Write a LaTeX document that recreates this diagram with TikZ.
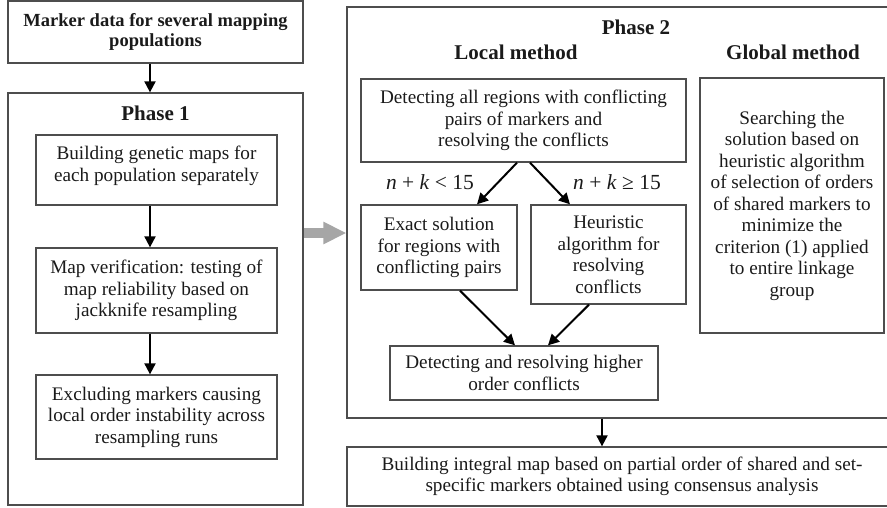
\documentclass[tikz,border=0pt]{standalone}
\usepackage{fontspec}
\setmainfont{Liberation Serif}
\usetikzlibrary{arrows.meta}
\definecolor{boxgray}{HTML}{4D4D4D}
\definecolor{arrgray}{HTML}{A6A6A6}
\definecolor{txtcol}{HTML}{1A1A1A}
\tikzset{
  box/.style={draw=boxgray, line width=1.3pt, inner sep=0pt, align=center, text=txtcol,
    font=\fontsize{19.2}{21.5}\selectfont},
  boldbox/.style={box, font=\bfseries\fontsize{18.5}{20}\selectfont},
  frame/.style={draw=boxgray, line width=1.3pt, inner sep=0pt},
  heading/.style={inner sep=0pt, text=txtcol, font=\bfseries\fontsize{21}{24}\selectfont},
  cond/.style={inner sep=0pt, text=txtcol, font=\fontsize{21.5}{24}\selectfont},
  arr/.style={line width=2pt, draw=black, -{Triangle[length=11pt,width=11pt]}},
  bigarr/.style={line width=10pt, draw=arrgray, -{Triangle[length=23pt,width=21pt]}}
}
\begin{document}
\begin{tikzpicture}[x=1pt,y=-1pt]
\useasboundingbox (0,0) rectangle (887,507);
\clip (0,0) rectangle (887,507);
% Phase 1 side
\node[boldbox, minimum width=295pt, minimum height=62pt] (top) at (155.5,32)
  {Marker data for several mapping\\populations};
\node[frame, minimum width=295pt, minimum height=412pt] (P1) at (155.5,299) {};
\node[heading] (P1t) at (155.5,113) {Phase 1};
\node[box, minimum width=241pt, minimum height=70pt] (A) at (156.5,170)
  {Building genetic maps for\\each population separately\\[-9pt]\mbox{}};
\node[box, minimum width=241pt, minimum height=85pt] (B) at (156.5,290.5)
  {Map verification: testing of\\map reliability based on\\jackknife resampling};
\node[box, minimum width=241pt, minimum height=84pt] (C) at (156.5,417)
  {Excluding markers causing\\local order instability across\\resampling runs};
% Phase 2 side
\node[frame, minimum width=550pt, minimum height=411pt] (P2) at (622,212.5) {};
\node[heading] (P2t) at (636,27) {Phase 2};
\node[heading] (loc) at (516,52) {Local method};
\node[heading] (glob) at (793,52) {Global method};
\node[box, minimum width=325pt, minimum height=83pt] (D) at (523.5,120.5)
  {Detecting all regions with conflicting\\pairs of markers and\\resolving the conflicts};
\node[box, minimum width=156pt, minimum height=85pt] (E) at (439,247.5)
  {Exact solution\\for regions with\\conflicting pairs};
\node[box, minimum width=155pt, minimum height=99pt] (F) at (608.5,254.5)
  {Heuristic\\algorithm for\\resolving\\conflicts};
\node[box, minimum width=184pt, minimum height=255pt] (G) at (792,205.5)
  {Searching the\\solution based on\\heuristic algorithm\\of selection of orders\\of shared markers to\\minimize the\\criterion (1) applied\\to entire linkage\\group};
\node[box, minimum width=268pt, minimum height=54pt] (I) at (524,373)
  {Detecting and resolving higher\\order conflicts};
\node[box, minimum width=550pt, minimum height=59pt] (H) at (622,476.5)
  {Building integral map based on partial order of shared and set-\\specific markers obtained using consensus analysis};
\node[cond] (c1) at (430,182) {\textit{n} + \textit{k} < 15};
\node[cond] (c2) at (617,182) {\textit{n} + \textit{k} ≥ 15};
% connectors
\draw[arr] ([xshift=-5.5pt]top.south) -- ([xshift=-5.5pt]P1.north);
\draw[arr] ([xshift=-6.5pt]A.south) -- ([xshift=-6.5pt]B.north);
\draw[arr] ([xshift=-6.5pt]B.south) -- ([xshift=-6.5pt]C.north);
\draw[arr] ([xshift=-6.5pt]D.south) -- ([xshift=38pt]E.north);
\draw[arr] ([xshift=6.5pt]D.south) -- ([xshift=-38.5pt]F.north);
\draw[arr] ([xshift=21pt]E.south) -- ([xshift=-9pt]I.north);
\draw[arr] ([xshift=-19.5pt]F.south) -- ([xshift=24pt]I.north);
\draw[arr] ([xshift=-20pt]P2.south) -- ([xshift=-20pt]H.north);
\coordinate (ga) at ([yshift=66pt]P1.east);
\draw[bigarr] (ga) -- (ga -| P2.west);
\end{tikzpicture}
\end{document}
